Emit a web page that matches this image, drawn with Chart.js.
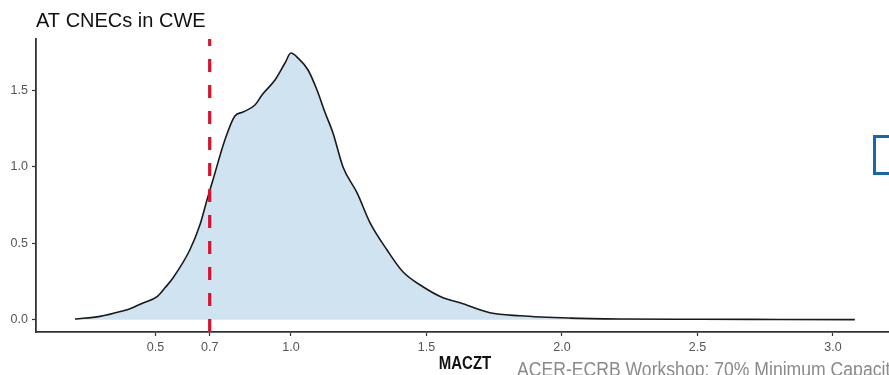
<!DOCTYPE html>
<html>
<head>
<meta charset="utf-8">
<script src="https://cdn.jsdelivr.net/npm/chart.js@4.4.0/dist/chart.umd.min.js"></script>
<style>
  html, body { margin: 0; padding: 0; background: #fff; overflow: hidden; }
  #wrap { position: relative; width: 889px; height: 375px; overflow: hidden; }
  #footer {
    position: absolute; left: 517px; top: 359px;
    font-family: "Liberation Sans", Arial, sans-serif; font-size: 20px; line-height: 20px;
    color: #8a8a8a; white-space: nowrap;
    transform: scaleX(0.88); transform-origin: left top;
  }
  #box {
    position: absolute; left: 873px; top: 135px; width: 30px; height: 34px;
    border: 3px solid #1568b0;
  }
</style>
</head>
<body>
<div id="wrap">
  <canvas id="densityChart" width="889" height="375"></canvas>
  <div id="box"></div>
  <div id="footer">ACER-ECRB Workshop: 70% Minimum Capacity</div>
</div>
<script>
// densidad de MACZT
const maczt = [0.203, 0.295, 0.380, 0.406, 0.454, 0.506, 0.535, 0.565, 0.627, 0.664, 0.690, 0.712, 0.756, 0.793, 0.823, 0.867, 0.893, 0.941, 0.978, 1.000, 1.026, 1.063, 1.096, 1.125, 1.155, 1.192, 1.244, 1.292, 1.354, 1.413, 1.487, 1.561, 1.624, 1.734, 1.845, 2.030, 2.214, 2.510, 2.800, 3.081];
const density = [0.005, 0.022, 0.058, 0.072, 0.110, 0.152, 0.209, 0.275, 0.458, 0.621, 0.784, 0.915, 1.176, 1.333, 1.359, 1.405, 1.471, 1.569, 1.680, 1.745, 1.712, 1.634, 1.503, 1.359, 1.222, 1.000, 0.830, 0.634, 0.458, 0.314, 0.216, 0.144, 0.111, 0.046, 0.026, 0.011, 0.005, 0.003, 0.002, 0.001];

// línea de referencia 0.7
const thresholdX = [0.7, 0.7];
const thresholdY = [-0.08, 1.837];

const xTicks = [0.5, 0.7, 1.0, 1.5, 2.0, 2.5, 3.0];
const yTicks = [0.0, 0.5, 1.0, 1.5];

const titleText = "AT CNECs in CWE";
const xAxisTitle = "MACZT";

const textPlugin = {
    id: "textPlugin",
    afterDraw(chart) {
        const ctx = chart.ctx;
        ctx.save();
        ctx.fillStyle = "#111";
        ctx.textBaseline = "alphabetic";
        ctx.textAlign = "left";
        ctx.font = "20px 'Liberation Sans', Arial, sans-serif";
        ctx.fillText(titleText, 36, 27);

        ctx.translate(465, 369);
        ctx.scale(1, 1.2);
        ctx.textAlign = "center";
        ctx.font = "bold 15px 'Liberation Sans', Arial, sans-serif";
        ctx.fillText(xAxisTitle, 0, 0);
        ctx.restore();
    }
};

const ctx = document.getElementById("densityChart");
new Chart(ctx, {
    type: "scatter",
    data: {
        datasets: [
            {
                data: maczt.map((x, i) => ({ x: x, y: density[i] })),
                showLine: true,
                borderColor: "#1a1a1a",
                borderWidth: 1.6,
                backgroundColor: "#cfe3f0",
                fill: "origin",
                pointRadius: 0,
                cubicInterpolationMode: "monotone",
                order: 2
            },
            {
                data: thresholdX.map((x, i) => ({ x: x, y: thresholdY[i] })),
                showLine: true,
                borderColor: "#d7132b",
                borderWidth: 3.2,
                borderDash: [13, 13],
                pointRadius: 0,
                fill: false,
                order: 1
            }
        ]
    },
    options: {
        responsive: false,
        animation: false,
        layout: { padding: { top: 39, left: 0, right: 0, bottom: 0 } },
        plugins: {
            legend: { display: false },
            tooltip: { enabled: false }
        },
        scales: {
            x: {
                type: "linear",
                min: 0.059,
                max: 3.207,
                afterBuildTicks: (scale) => { scale.ticks = xTicks.map(v => ({ value: v })); },
                afterFit: (scale) => { scale.height = 43; },
                grid: { display: true, drawOnChartArea: false, drawTicks: true, tickLength: 4, tickWidth: 1.2, tickColor: "#333" },
                border: { display: true, color: "#333", width: 1.8 },
                ticks: {
                    padding: 4,
                    color: "#555",
                    font: { family: "'Liberation Sans', Arial, sans-serif", size: 12.5 },
                    maxRotation: 0,
                    callback: (v) => Number(v).toFixed(1)
                }
            },
            y: {
                min: -0.08,
                max: 1.837,
                afterBuildTicks: (scale) => { scale.ticks = yTicks.map(v => ({ value: v })); },
                afterFit: (scale) => { scale.width = 36; },
                grid: { display: true, drawOnChartArea: false, drawTicks: true, tickLength: 4, tickWidth: 1.2, tickColor: "#333" },
                border: { display: true, color: "#333", width: 1.8 },
                ticks: {
                    padding: 4,
                    color: "#555",
                    font: { family: "'Liberation Sans', Arial, sans-serif", size: 12.5 },
                    callback: (v) => Number(v).toFixed(1)
                }
            }
        }
    },
    plugins: [textPlugin]
});
</script>
</body>
</html>
